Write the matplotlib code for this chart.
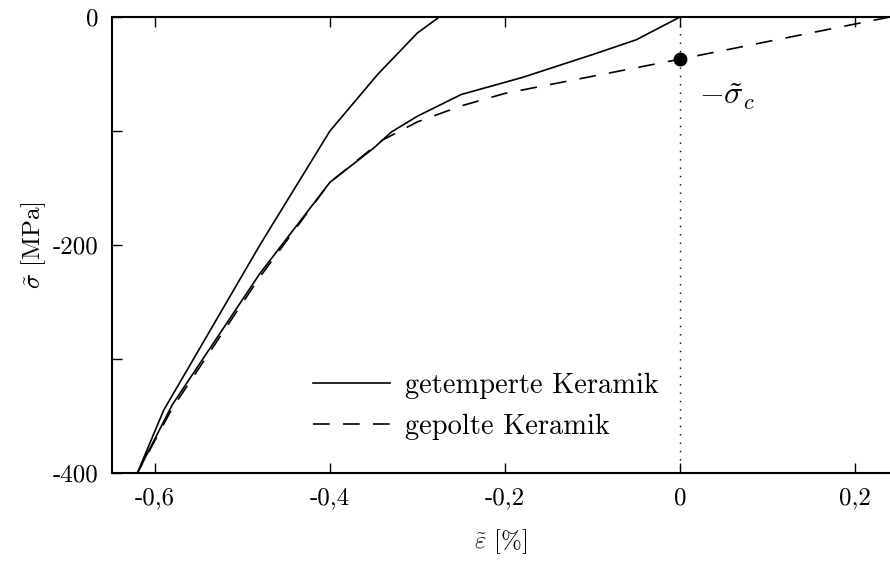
import numpy as np
import matplotlib
matplotlib.use("Agg")
import matplotlib.pyplot as plt

plt.rcParams['font.family'] = 'cmr10'
plt.rcParams['mathtext.fontset'] = 'cm'
plt.rcParams['axes.formatter.use_mathtext'] = True

# getemperte Keramik: loading from 0 down to -400, then unloading
temp_eps = [0.0, -0.05, -0.10, -0.18, -0.25, -0.30, -0.33, -0.35, -0.40, -0.48, -0.58, -0.62,
            -0.59, -0.48, -0.40, -0.345, -0.30, -0.275]
temp_sig = [0, -20, -33, -53, -68, -87, -101, -115, -145, -225, -340, -400,
            -345, -200, -100, -50, -14, 0]

# gepolte Keramik
pol_eps = [0.24, 0.0, -0.10, -0.20, -0.25, -0.30, -0.34, -0.40, -0.48, -0.58, -0.62]
pol_sig = [0, -37, -52, -67, -78, -92, -108, -145, -228, -343, -400]

sig_c = -37

xticks = [-0.6, -0.4, -0.2, 0, 0.2]
xticklabels = ['-0,6', '-0,4', '-0,2', '0', '0,2']
yticks = [0, -100, -200, -300, -400]
yticklabels = ['0', '', '-200', '', '-400']

fig = plt.figure(figsize=(8.9, 5.61), dpi=100)
ax = fig.add_axes([112/890, 1 - 473/561, 1 - 112/890, (473 - 17)/561])

ax.plot(temp_eps, temp_sig, color='black', lw=1.2, label='getemperte Keramik')
ax.plot(pol_eps, pol_sig, color='black', lw=1.2, dashes=(10, 8), label='gepolte Keramik')
ax.plot([0, 0], [0, -400], color='black', lw=1, ls=(0, (1, 5)))
ax.plot([0], [sig_c], 'o', color='black', ms=9, zorder=5)
ax.text(0.022, -70, r'$-\tilde{\sigma}_c$', fontsize=23, va='center', ha='left')

ax.set_xlim(-0.649, 0.24)
ax.set_ylim(-400, 0)
ax.set_xticks(xticks)
ax.set_xticklabels(xticklabels)
ax.set_yticks(yticks)
ax.set_yticklabels(yticklabels)
ax.tick_params(direction='in', length=7, width=1, labelsize=18, top=True, pad=10)
ax.spines['right'].set_visible(False)
for s in ['left', 'top', 'bottom']:
    ax.spines[s].set_linewidth(1.5)

ax.set_xlabel(r'$\tilde{\varepsilon}$ [%]', fontsize=18, labelpad=13)
ax.set_ylabel(r'$\tilde{\sigma}$ [MPa]', fontsize=18, labelpad=3)

ax.legend(loc='upper left', bbox_to_anchor=(0.226, 0.277), frameon=False, fontsize=20.5,
          handlelength=2.7, handletextpad=0.5, labelspacing=0.53)

fig.savefig('out.png', dpi=100)
